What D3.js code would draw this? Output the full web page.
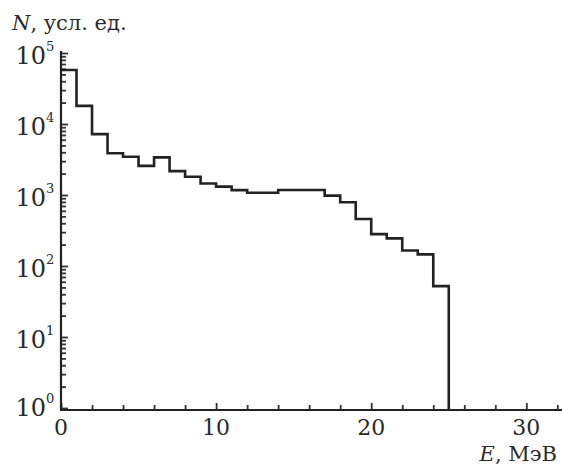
<!DOCTYPE html>
<html><head><meta charset="utf-8">
<script src="https://cdn.jsdelivr.net/npm/d3@7/dist/d3.min.js"></script>
<style>body{margin:0;background:#fff}svg{display:block}text{font-family:"DejaVu Serif","Liberation Serif",serif;fill:#2a2a2a}</style>
</head><body>
<svg id="c" width="562" height="467"></svg>
<script>
// Bin starts (MeV), bin width 1 MeV
const binStarts = [0,1,2,3,4,5,6,7,8,9,10,11,12,13,14,15,16,17,18,19,20,21,22,23,24];
const binEnd = 25;
// Counts N (arb. units)
const counts = [57500,18000,7200,3870,3460,2570,3390,2170,1810,1450,1310,1170,1077,1077,1175,1175,1175,980,789,460,281,245,165,146,52];
const xMajorTicks = [0,10,20,30];
const xMinorTicks = [2,4,6,8,12,14,16,18,22,24,26,28,32];
const yExponents = [0,1,2,3,4,5];

const svg = d3.select("#c");
const x = d3.scaleLinear().domain([0, 32.3]).range([61, 562]);
const y = d3.scaleLog().domain([1, 1e5]).range([408, 53]);
const x0 = 61, y0 = 410;

// minor y ticks
const yMinor = [];
yExponents.slice(0,-1).forEach(e => { for (let m=2;m<=9;m++) yMinor.push(m*Math.pow(10,e)); });

const gy = svg.append("g").attr("transform",`translate(${x0},0)`);
gy.call(d3.axisLeft(y).tickValues(yMinor).tickSizeInner(-5).tickSizeOuter(0).tickFormat(""));
const gyM = svg.append("g").attr("transform",`translate(${x0},0)`);
gyM.call(d3.axisLeft(y).tickValues(yExponents.map(e=>Math.pow(10,e))).tickSizeInner(-7).tickSizeOuter(0).tickFormat(""));
gy.select(".domain").remove(); gyM.select(".domain").remove();

const gx = svg.append("g").attr("transform",`translate(0,${y0})`);
gx.call(d3.axisBottom(x).tickValues(xMinorTicks).tickSizeInner(-5).tickSizeOuter(0).tickFormat(""));
const gxM = svg.append("g").attr("transform",`translate(0,${y0})`);
gxM.call(d3.axisBottom(x).tickValues(xMajorTicks).tickSizeInner(-7).tickSizeOuter(0).tickFormat(""));
gx.select(".domain").remove(); gxM.select(".domain").remove();
svg.selectAll(".tick line").attr("stroke","#333").attr("stroke-width",1.8);

// axis lines
svg.append("line").attr("x1",x0).attr("x2",x0).attr("y1",y(1e5)-2).attr("y2",y0+1).attr("stroke","#222").attr("stroke-width",2.2);
svg.append("line").attr("x1",x0-1).attr("x2",562).attr("y1",y0).attr("y2",y0).attr("stroke","#222").attr("stroke-width",2.2);

// y labels
yExponents.forEach(e => {
  const ty0 = y(Math.pow(10,e));
  const base = e === 0 ? ty0 + 8 : ty0 + 11;
  svg.append("text").attr("x", 46).attr("y", base).attr("text-anchor","end").attr("font-size",24).text("10");
  svg.append("text").attr("x", 46).attr("y", base - 13).attr("font-size",13).text(String(e));
});
// x labels
xMajorTicks.forEach(v => {
  svg.append("text").attr("x", x(v)).attr("y", 435).attr("text-anchor","middle").attr("font-size",22).text(String(v));
});

// axis titles
const ty = svg.append("text").attr("x",12).attr("y",30).attr("font-size",21);
ty.append("tspan").attr("font-style","italic").text("N");
ty.append("tspan").text(", усл. ед.");
const tx = svg.append("text").attr("x",557).attr("y",461).attr("text-anchor","end").attr("font-size",21);
tx.append("tspan").attr("font-style","italic").text("E");
tx.append("tspan").text(", МэВ");

// histogram step line
const pts = binStarts.map((b,i)=>[b,counts[i]]);
pts.push([binEnd, counts[counts.length-1]]);
pts.push([binEnd, 1]);
const line = d3.line().x(d=>x(d[0])).y(d=>d[1]<=1?y0:y(d[1])).curve(d3.curveStepAfter);
svg.append("path").attr("d", line(pts)).attr("fill","none").attr("stroke","#222").attr("stroke-width",2.6);
</script>
</body></html>
